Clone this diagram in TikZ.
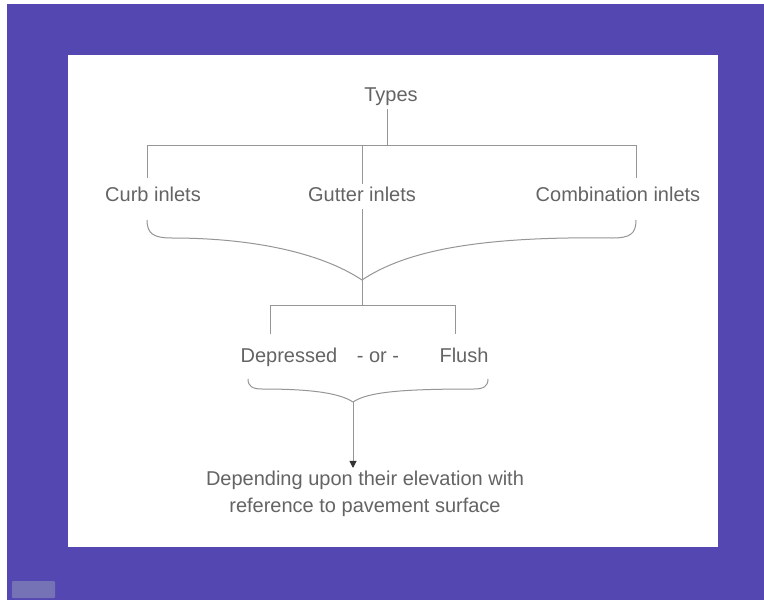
\documentclass[tikz,border=0pt]{standalone}
\usepackage{fontspec}
\setmainfont{Liberation Sans}
\usetikzlibrary{arrows.meta}
\definecolor{bgpurple}{RGB}{84,71,178}
\definecolor{txtgray}{RGB}{100,100,100}
\definecolor{lngray}{RGB}{150,150,150}
\definecolor{tipcol}{RGB}{50,50,50}
\definecolor{btncol}{RGB}{118,114,182}
\begin{document}
\begin{tikzpicture}[x=1pt,y=1pt,
  lbl/.style={font=\fontsize{20}{27}\selectfont, text=txtgray, inner sep=0pt, text height=14.5pt, text depth=4.2pt},
  ln/.style={draw=lngray, line width=1pt},
  brace/.style={draw=lngray, line width=1pt, line join=round}]
\useasboundingbox (0,0) rectangle (764,-600);
\fill[white] (0,0) rectangle (764,-600);
\fill[bgpurple] (7,-4) rectangle (764,-600);
\fill[white] (68,-55) rectangle (718,-547);
\fill[btncol, rounded corners=1pt] (12,-581) rectangle (55,-598);

% texts
\node[lbl] (types) at (391,-96.5) {Types};
\node[lbl] (curb) at (153,-196.5) {Curb inlets};
\node[lbl] (gutter) at (362,-196.5) {Gutter inlets};
\node[lbl] (comb) at (618,-196.5) {Combination inlets};
\node[lbl] (dep) at (289,-357.5) {Depressed};
\node[lbl] (or) at (378,-357.5) {- or -};
\node[lbl] (flush) at (464,-357.5) {Flush};
\node[font=\fontsize{20}{27}\selectfont, text=txtgray, inner sep=0pt, align=center] (desc) at (365,-494) {Depending upon their elevation with\\reference to pavement surface};

% junction coordinates
\coordinate (htop) at (387,-145);
\coordinate (hl) at (147,-145);
\coordinate (hr) at (636,-145);
\coordinate (hm) at (362,-145);
\coordinate (vl) at (147,-178);
\coordinate (vr) at (636,-178);
\coordinate (tip1) at (362,-280);
\coordinate (j2) at (362,-305);
\coordinate (dl) at (270,-305);
\coordinate (dr) at (455,-305);
\coordinate (dlb) at (270,-334);
\coordinate (drb) at (455,-334);
\coordinate (tip2) at (353,-402);

% tree lines
\draw[ln] ([yshift=-3pt]types.south -| htop) -- (htop);
\draw[ln] (hl) -- (hr);
\draw[ln] (hl) -- (vl);
\draw[ln] (hr) -- (vr);
\draw[ln] (hm) -- ([yshift=3pt]gutter.north -| hm);
\draw[ln] ([yshift=-3pt]gutter.south -| hm) -- (tip1);
\draw[ln] (tip1) -- (j2);
\draw[ln] (dl) -- (dr);
\draw[ln] (dl) -- (dlb);
\draw[ln] (dr) -- (drb);

% brace 1
\draw[brace] (147,-220) .. controls (147,-234) and (154,-238) .. (172,-238)
  .. controls (250,-238) and (320,-252) .. (tip1)
  .. controls (404,-252) and (474,-236) .. (612,-238)
  .. controls (630,-238) and (636,-234) .. (636,-220);

% brace 2
\draw[brace] (248,-379) .. controls (248,-386) and (252,-389) .. (262,-389)
  .. controls (305,-389) and (338,-392) .. (tip2)
  .. controls (368,-392) and (401,-389) .. (474,-389)
  .. controls (484,-389) and (488,-386) .. (488,-379);

% arrow
\draw[ln, -{Triangle[width=7pt,length=7pt,color=tipcol]}] (tip2) -- ([yshift=3pt]desc.north -| tip2);
\end{tikzpicture}
\end{document}
